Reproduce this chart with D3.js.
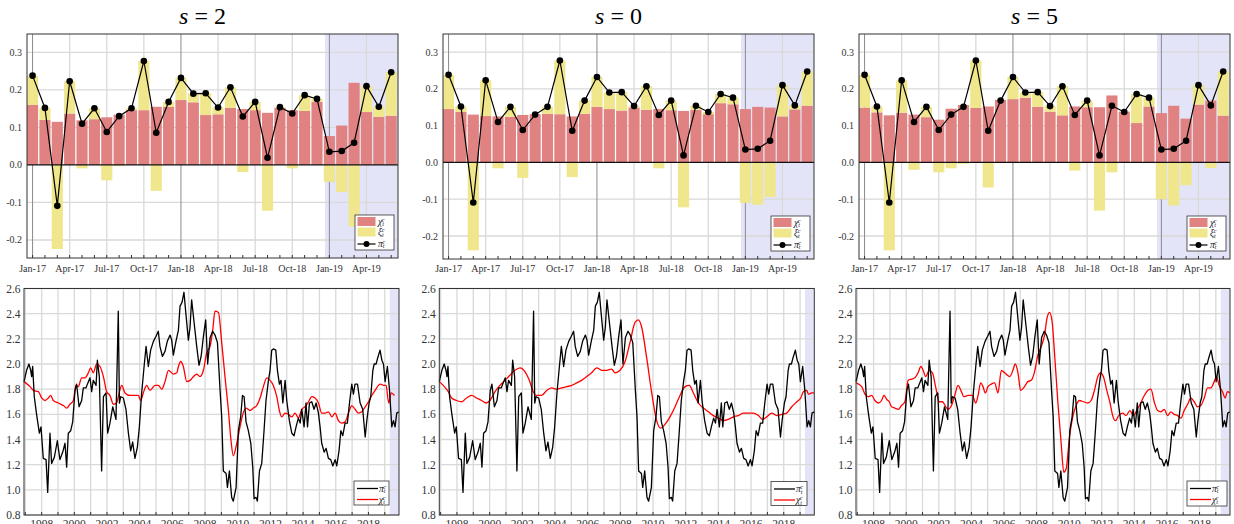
<!DOCTYPE html>
<html>
<head>
<meta charset="utf-8">
<script src="https://cdn.jsdelivr.net/npm/d3@7"></script>
<style>
  body { margin: 0; background: #fff; }
</style>
</head>
<body>
<div id="chart"></div>
<script>
// Daten: Monatswerte Jan-17 bis Jun-19
const months = ["Jan-17","Feb-17","Mar-17","Apr-17","May-17","Jun-17","Jul-17","Aug-17","Sep-17","Oct-17","Nov-17","Dec-17",
  "Jan-18","Feb-18","Mar-18","Apr-18","May-18","Jun-18","Jul-18","Aug-18","Sep-18","Oct-18","Nov-18","Dec-18",
  "Jan-19","Feb-19","Mar-19","Apr-19","May-19","Jun-19"];
const piMonthly = [0.238,0.152,-0.109,0.223,0.110,0.151,0.088,0.130,0.151,0.277,0.086,0.168,
  0.232,0.190,0.191,0.153,0.207,0.129,0.168,0.019,0.154,0.137,0.186,0.176,
  0.035,0.037,0.059,0.210,0.155,0.247];

const chiS2 = [0.160,0.120,0.115,0.137,0.119,0.122,0.127,0.134,0.146,0.146,0.155,0.155,
  0.173,0.167,0.133,0.135,0.152,0.149,0.146,0.139,0.152,0.146,0.144,0.168,
  0.077,0.105,0.219,0.141,0.128,0.131];
const xiS2 = [0.078,0.032,-0.224,0.086,-0.009,0.029,-0.041,-0.003,0.005,0.131,-0.069,0.013,
  0.059,0.023,0.058,0.018,0.055,-0.019,0.022,-0.122,0.002,-0.009,0.042,0.008,
  -0.045,-0.072,-0.164,0.069,0.027,0.116];

const chiS0 = [0.145,0.137,0.130,0.126,0.125,0.124,0.129,0.131,0.132,0.131,0.125,0.132,
  0.151,0.145,0.141,0.149,0.143,0.145,0.142,0.140,0.143,0.131,0.161,0.158,
  0.145,0.151,0.149,0.125,0.144,0.154];
const xiS0 = [0.093,0.015,-0.239,0.097,-0.016,0.027,-0.042,0.000,0.019,0.146,-0.040,0.036,
  0.081,0.045,0.050,0.004,0.064,-0.016,0.026,-0.122,0.011,0.006,0.025,0.018,
  -0.110,-0.115,-0.094,0.085,0.011,0.093];

const chiS5 = [0.149,0.136,0.128,0.135,0.130,0.123,0.116,0.146,0.156,0.148,0.152,0.170,
  0.172,0.176,0.151,0.138,0.128,0.152,0.150,0.150,0.182,0.138,0.107,0.152,
  0.134,0.154,0.119,0.157,0.168,0.127];
const xiS5 = [0.089,0.016,-0.239,0.088,-0.020,0.028,-0.027,-0.016,-0.004,0.129,-0.068,-0.002,
  0.060,0.014,0.040,0.015,0.079,-0.022,0.018,-0.131,-0.027,0.000,0.079,0.024,
  -0.100,-0.117,-0.062,0.053,-0.015,0.120];

// Daten: lange Reihen 1997-2019
const piYears = [1996.92,1997.08,1997.22,1997.33,1997.39,1997.45,1997.55,1997.69,1997.86,1997.96,
  1998.10,1998.27,1998.37,1998.51,1998.61,1998.78,1998.96,1999.12,1999.29,1999.43,1999.53,1999.63,1999.78,1999.90,
  2000.04,2000.14,2000.29,2000.45,2000.55,2000.71,2000.80,2000.96,2001.06,2001.16,2001.33,2001.41,2001.53,2001.67,2001.78,2001.94,
  2002.04,2002.18,2002.35,2002.55,2002.69,2002.76,2002.84,2003.00,2003.16,2003.31,2003.45,2003.57,2003.71,2003.86,2003.98,
  2004.12,2004.27,2004.39,2004.53,2004.67,2004.84,2005.00,2005.14,2005.24,2005.39,2005.55,2005.69,2005.86,2005.96,
  2006.06,2006.22,2006.37,2006.47,2006.59,2006.71,2006.82,2006.98,2007.08,2007.18,2007.33,2007.49,2007.63,2007.76,2007.90,
  2008.04,2008.16,2008.31,2008.47,2008.61,2008.76,2008.92,2009.02,2009.12,2009.29,2009.37,2009.49,2009.63,2009.73,2009.90,
  2010.04,2010.18,2010.29,2010.39,2010.51,2010.65,2010.80,2010.92,2011.00,2011.12,2011.20,2011.33,2011.47,2011.61,2011.73,2011.88,2011.98,
  2012.08,2012.18,2012.33,2012.43,2012.55,2012.65,2012.76,2012.90,2013.00,2013.16,2013.31,2013.45,2013.57,2013.71,2013.82,2013.92,
  2014.06,2014.18,2014.27,2014.39,2014.53,2014.67,2014.80,2014.94,2015.04,2015.14,2015.29,2015.41,2015.55,2015.69,2015.82,2015.96,
  2016.06,2016.20,2016.31,2016.43,2016.57,2016.71,2016.84,2016.98,2017.08,2017.18,2017.33,2017.49,2017.65,2017.80,2017.90,
  2018.04,2018.14,2018.27,2018.35,2018.47,2018.57,2018.71,2018.82,2018.92,2019.02,2019.16,2019.29,2019.43,2019.53,2019.63,2019.73,2019.86];
const piLong = [1.86,1.95,2.00,1.95,1.90,1.98,1.74,1.60,1.45,1.50,
  1.25,1.24,0.98,1.45,1.21,1.26,1.39,1.24,1.30,1.37,1.18,1.45,1.47,1.54,
  1.79,1.84,1.66,1.71,1.81,1.81,1.84,1.89,1.78,1.87,1.83,2.03,1.90,1.15,1.74,1.77,
  1.45,1.53,1.66,1.56,2.42,1.69,1.74,1.73,1.64,1.45,1.31,1.38,1.25,1.34,1.50,
  1.77,1.98,2.14,1.98,2.11,2.18,2.22,2.26,2.14,2.06,2.10,2.18,2.23,2.19,
  2.07,2.18,2.27,2.46,2.49,2.57,2.41,2.19,2.29,2.51,2.33,2.14,1.99,2.06,2.22,
  2.35,2.00,2.21,2.26,2.23,2.17,1.79,1.58,1.15,1.13,1.02,1.15,0.94,0.91,1.02,
  1.47,1.58,1.75,1.74,1.54,1.47,1.37,1.18,0.93,0.94,0.91,1.15,1.21,1.47,1.71,1.87,1.95,
  2.11,2.12,2.11,1.95,1.84,1.87,1.69,1.87,1.71,1.55,1.45,1.43,1.50,1.57,1.53,1.64,
  1.50,1.69,1.50,1.69,1.70,1.64,1.69,1.61,1.50,1.37,1.30,1.33,1.25,1.24,1.19,1.24,
  1.19,1.31,1.47,1.43,1.53,1.53,1.69,1.84,1.76,1.84,1.84,1.69,1.64,1.42,1.55,
  1.69,1.74,1.95,2.00,2.00,2.05,2.11,2.03,2.00,1.86,1.98,1.79,1.50,1.55,1.50,1.61,1.62];

const chiYearsS2 = [1996.92,1997.29,1997.49,1997.80,1998.00,1998.20,1998.41,1998.55,1998.71,1999.02,1999.33,1999.53,1999.73,1999.94,
  2000.10,2000.24,2000.45,2000.65,2000.86,2001.00,2001.16,2001.37,2001.57,2001.78,2001.98,2002.18,2002.39,2002.59,2002.76,2002.90,
  2003.10,2003.41,2003.71,2003.92,2004.06,2004.22,2004.43,2004.63,2004.94,2005.14,2005.35,2005.55,2005.76,2006.06,2006.27,2006.37,
  2006.51,2006.67,2006.88,2007.08,2007.29,2007.49,2007.69,2007.90,2008.10,2008.31,2008.47,2008.61,2008.82,2009.02,2009.22,2009.43,
  2009.59,2009.73,2009.94,2010.14,2010.31,2010.51,2010.76,2010.96,2011.16,2011.37,2011.57,2011.78,2011.98,2012.18,2012.39,2012.55,
  2012.69,2012.90,2013.10,2013.31,2013.51,2013.71,2013.92,2014.12,2014.33,2014.53,2014.73,2014.94,2015.14,2015.35,2015.55,2015.76,
  2015.96,2016.16,2016.37,2016.57,2016.78,2016.98,2017.18,2017.39,2017.59,2017.80,2018.00,2018.20,2018.41,2018.61,2018.75,2018.92,
  2019.08,2019.24,2019.39,2019.59];
const chiLongS2 = [1.86,1.82,1.79,1.78,1.73,1.71,1.73,1.75,1.71,1.69,1.67,1.65,1.68,1.71,
  1.83,1.82,1.89,1.89,1.93,1.97,1.93,2.00,1.98,1.90,1.78,1.75,1.68,1.69,1.78,1.83,
  1.77,1.75,1.75,1.75,1.71,1.77,1.83,1.79,1.83,1.83,1.80,1.86,1.95,1.92,1.93,1.98,
  2.02,1.98,1.86,1.87,1.90,1.92,1.90,1.95,2.09,2.14,2.27,2.42,2.41,2.17,1.90,1.63,
  1.39,1.27,1.37,1.50,1.60,1.65,1.63,1.65,1.67,1.73,1.82,1.89,1.87,1.83,1.74,1.63,
  1.58,1.61,1.60,1.58,1.61,1.57,1.64,1.66,1.70,1.74,1.73,1.69,1.61,1.61,1.62,1.58,
  1.61,1.55,1.53,1.54,1.61,1.67,1.64,1.61,1.62,1.66,1.70,1.75,1.79,1.83,1.84,1.83,
  1.83,1.69,1.77,1.75];

const chiYearsS0 = [1996.92,1997.16,1997.47,1997.67,1997.98,1998.29,1998.59,1998.90,1999.20,1999.51,1999.78,2000.02,2000.33,2000.63,
  2000.94,2001.24,2001.55,2001.86,2002.16,2002.43,2002.67,2002.88,2003.18,2003.49,2003.80,2004.10,2004.41,2004.71,2005.02,2005.33,
  2005.63,2005.94,2006.24,2006.55,2006.86,2007.16,2007.47,2007.67,2007.98,2008.29,2008.59,2008.90,2009.10,2009.31,2009.61,2009.92,
  2010.22,2010.47,2010.73,2011.04,2011.35,2011.65,2011.96,2012.22,2012.47,2012.78,2013.08,2013.39,2013.69,2014.00,2014.31,2014.61,
  2014.92,2015.22,2015.53,2015.84,2016.14,2016.45,2016.71,2016.96,2017.27,2017.57,2017.88,2018.18,2018.49,2018.80,2019.04,2019.20,
  2019.41,2019.51,2019.71,2019.86];
const chiLongS0 = [1.86,1.83,1.78,1.73,1.71,1.70,1.73,1.75,1.73,1.71,1.69,1.71,1.78,1.83,
  1.87,1.91,1.95,1.97,1.94,1.87,1.78,1.75,1.75,1.79,1.81,1.80,1.81,1.82,1.83,1.85,
  1.87,1.90,1.93,1.97,1.95,1.95,1.96,1.93,1.95,2.02,2.17,2.33,2.35,2.29,2.05,1.77,
  1.55,1.49,1.52,1.58,1.66,1.75,1.82,1.83,1.77,1.69,1.65,1.62,1.59,1.57,1.55,1.56,
  1.58,1.59,1.61,1.61,1.61,1.59,1.56,1.58,1.61,1.59,1.60,1.61,1.66,1.70,1.73,1.78,
  1.79,1.76,1.77,1.77];

const chiYearsS5 = [1996.92,1997.27,1997.47,1997.67,1997.88,1998.08,1998.29,1998.49,1998.63,1998.80,1998.96,1999.10,1999.31,1999.51,
  1999.71,1999.92,2000.12,2000.33,2000.53,2000.73,2000.90,2001.04,2001.20,2001.41,2001.61,2001.82,2002.02,2002.22,2002.43,2002.57,
  2002.78,2002.98,2003.18,2003.39,2003.53,2003.80,2004.06,2004.27,2004.41,2004.57,2004.71,2004.86,2005.02,2005.22,2005.43,2005.63,
  2005.84,2006.04,2006.35,2006.55,2006.69,2006.86,2007.02,2007.20,2007.47,2007.67,2007.88,2008.08,2008.29,2008.49,2008.65,2008.80,
  2008.96,2009.10,2009.31,2009.51,2009.67,2009.82,2010.02,2010.22,2010.43,2010.63,2010.88,2011.14,2011.35,2011.55,2011.76,2011.92,
  2012.10,2012.31,2012.51,2012.67,2012.84,2013.04,2013.29,2013.49,2013.73,2013.94,2014.14,2014.35,2014.61,2014.82,2015.02,2015.22,
  2015.43,2015.63,2015.84,2016.04,2016.24,2016.45,2016.65,2016.86,2017.06,2017.27,2017.47,2017.67,2017.88,2018.08,2018.29,2018.49,
  2018.69,2018.90,2019.04,2019.20,2019.41,2019.57,2019.71,2019.86];
const chiLongS5 = [1.85,1.82,1.76,1.74,1.75,1.71,1.69,1.71,1.75,1.72,1.70,1.66,1.65,1.64,
  1.67,1.70,1.87,1.88,1.89,1.93,1.98,1.95,1.90,1.95,1.93,1.81,1.70,1.70,1.66,1.64,
  1.67,1.75,1.83,1.78,1.74,1.75,1.75,1.69,1.75,1.85,1.82,1.77,1.82,1.84,1.85,1.77,
  1.95,1.93,1.90,1.95,2.00,1.93,1.79,1.81,1.86,1.87,1.94,2.07,2.14,2.23,2.37,2.41,
  2.33,2.09,1.69,1.37,1.14,1.17,1.42,1.58,1.67,1.71,1.70,1.69,1.71,1.79,1.90,1.93,
  1.90,1.79,1.69,1.59,1.55,1.59,1.61,1.59,1.63,1.59,1.63,1.68,1.75,1.79,1.80,1.70,
  1.63,1.62,1.64,1.59,1.62,1.60,1.59,1.57,1.63,1.68,1.73,1.70,1.66,1.67,1.73,1.81,
  1.81,1.86,1.90,1.83,1.78,1.73,1.78,1.77];

const panelTitles = ["2", "0", "5"];
const barTicks = [-0.2, -0.1, 0.0, 0.1, 0.2, 0.3];
const lineTicks = [0.8, 1.0, 1.2, 1.4, 1.6, 1.8, 2.0, 2.2, 2.4, 2.6];
const yearTicks = [1998, 2000, 2002, 2004, 2006, 2008, 2010, 2012, 2014, 2016, 2018];
const yearGrid = d3.range(1997, 2020);

const chiSeries = [chiS2, chiS0, chiS5];
const xiSeries = [xiS2, xiS0, xiS5];
const chiLongYears = [chiYearsS2, chiYearsS0, chiYearsS5];
const chiLongValues = [chiLongS2, chiLongS0, chiLongS5];

// Layout
const W = 1234, H = 524;
const SERIF = "'Liberation Serif', 'Times New Roman', 'DejaVu Serif', serif";
const topBoxes = [
  { x0: 27, x1: 398, y0: 34, y1: 258, yDom: [-0.248, 0.349] },
  { x0: 443, x1: 814, y0: 34, y1: 259, yDom: [-0.2625, 0.349] },
  { x0: 859, x1: 1230, y0: 34, y1: 259, yDom: [-0.2625, 0.349] }
];
const bottomBoxes = [
  { x0: 24, x1: 399, y0: 288.5, y1: 515, leg: [354, 481, 35, 24] },
  { x0: 439.3, x1: 814.3, y0: 288.5, y1: 515, leg: [771, 481.5, 36, 24] },
  { x0: 856, x1: 1230, y0: 288.5, y1: 515, leg: [1187, 481, 40, 25] }
];

const RED = "#e08282", YELLOW = "#f0e68c", SHADE = "#e4e4f8";
const GRID = "#d9d9d9", YEARGRID = "#8a8a8a", FRAME = "#333";

const svg = d3.select("#chart").append("svg")
  .attr("width", W).attr("height", H)
  .attr("font-family", SERIF);

function mathLabel(sel, base) {
  // z.B. χ mit Index t und Exponent c
  sel.append("tspan").attr("font-style", "italic").text(base);
  sel.append("tspan").attr("font-style", "italic").attr("font-size", "0.65em").attr("dy", "0.3em").text("t");
  sel.append("tspan").attr("font-style", "italic").attr("font-size", "0.65em").attr("dx", "-0.35em").attr("dy", "-0.75em").text("c");
}

function drawBarPanel(i) {
  const b = topBoxes[i];
  const chi = chiSeries[i], xi = xiSeries[i];
  const g = svg.append("g");
  const x = d3.scaleLinear().domain([-0.45, 29.55]).range([b.x0, b.x1]);
  const y = d3.scaleLinear().domain(b.yDom).range([b.y1, b.y0]);
  const bw = (x(1) - x(0)) * 0.9;

  // Titel
  const t = g.append("text")
    .attr("x", (b.x0 + b.x1) / 2 - 10).attr("y", 24)
    .attr("text-anchor", "middle").attr("font-size", 24).attr("fill", "#000");
  t.append("tspan").attr("font-style", "italic").text("s");
  t.append("tspan").text(" = " + panelTitles[i]);

  // Prognosebereich
  g.append("rect").attr("x", x(23.65)).attr("y", b.y0)
    .attr("width", b.x1 - x(23.65)).attr("height", b.y1 - b.y0).attr("fill", SHADE);

  // Gitter
  g.selectAll(".hg").data(barTicks.filter(v => v !== 0)).enter().append("line")
    .attr("x1", b.x0).attr("x2", b.x1).attr("y1", d => y(d)).attr("y2", d => y(d))
    .attr("stroke", GRID).attr("stroke-width", 1.3);
  const q = months.map((m, k) => k).filter(k => k % 3 === 0);
  g.selectAll(".vg").data(q).enter().append("line")
    .attr("x1", d => x(d)).attr("x2", d => x(d)).attr("y1", b.y0).attr("y2", b.y1)
    .attr("stroke", d => d % 12 === 0 ? YEARGRID : GRID)
    .attr("stroke-width", d => d % 12 === 0 ? 1 : 1.3);

  // Balken
  g.selectAll(".chi").data(chi).enter().append("rect")
    .attr("x", (d, k) => x(k) - bw / 2).attr("width", bw)
    .attr("y", d => y(Math.max(d, 0))).attr("height", d => Math.abs(y(d) - y(0)))
    .attr("fill", RED);
  g.selectAll(".xi").data(xi).enter().append("rect")
    .attr("x", (d, k) => x(k) - bw / 2).attr("width", bw)
    .attr("y", (d, k) => d >= 0 ? y(chi[k] + d) : y(0))
    .attr("height", d => Math.abs(y(d) - y(0)))
    .attr("fill", YELLOW);

  g.append("line").attr("x1", b.x0).attr("x2", b.x1).attr("y1", y(0)).attr("y2", y(0))
    .attr("stroke", "#111").attr("stroke-width", 1.2);

  // Linie mit Punkten
  g.append("path").datum(piMonthly)
    .attr("d", d3.line().x((d, k) => x(k)).y(d => y(d)))
    .attr("fill", "none").attr("stroke", "#000").attr("stroke-width", 1.2);
  g.selectAll(".dot").data(piMonthly).enter().append("circle")
    .attr("cx", (d, k) => x(k)).attr("cy", d => y(d)).attr("r", 3.3).attr("fill", "#000");

  // Rahmen, Ticks, Beschriftung
  g.append("rect").attr("x", b.x0).attr("y", b.y0).attr("width", b.x1 - b.x0).attr("height", b.y1 - b.y0)
    .attr("fill", "none").attr("stroke", FRAME).attr("stroke-width", 1);
  g.selectAll(".mt").data(months).enter().append("line")
    .attr("x1", (d, k) => x(k)).attr("x2", (d, k) => x(k)).attr("y1", b.y1).attr("y2", b.y1 - 3)
    .attr("stroke", FRAME);
  g.selectAll(".xl").data(q).enter().append("text")
    .attr("x", d => x(d)).attr("y", 271.5).attr("text-anchor", "middle").attr("font-size", 10)
    .attr("fill", "#333").text(d => months[d]);
  g.selectAll(".yl").data(barTicks).enter().append("text")
    .attr("x", b.x0 - 5).attr("y", d => y(d) + 3.5).attr("text-anchor", "end").attr("font-size", 10)
    .attr("fill", "#333").text(d => d.toFixed(1));

  // Legende
  const lx = b.x1 - 43, ly = b.y1 - 43;
  const leg = g.append("g");
  leg.append("rect").attr("x", lx).attr("y", ly).attr("width", 39).attr("height", 35)
    .attr("fill", "#fff").attr("stroke", FRAME).attr("stroke-width", 0.8);
  leg.append("rect").attr("x", lx + 2.5).attr("y", ly + 2).attr("width", 18).attr("height", 9).attr("fill", RED);
  leg.append("rect").attr("x", lx + 2.5).attr("y", ly + 12.5).attr("width", 18).attr("height", 9).attr("fill", YELLOW);
  leg.append("line").attr("x1", lx + 2.5).attr("x2", lx + 20.5).attr("y1", ly + 29).attr("y2", ly + 29)
    .attr("stroke", "#000").attr("stroke-width", 1.2);
  leg.append("circle").attr("cx", lx + 11.5).attr("cy", ly + 29).attr("r", 3).attr("fill", "#000");
  [["χ", 9.5], ["ξ", 20], ["π", 31.5]].forEach(([s, dy]) => {
    leg.append("text").attr("x", lx + 23).attr("y", ly + dy).attr("font-size", 9.5)
      .attr("fill", "#222").call(mathLabel, s);
  });
}

function drawLinePanel(i) {
  const b = bottomBoxes[i];
  const g = svg.append("g");
  const x = d3.scaleLinear().domain([1996.92, 2019.87]).range([b.x0, b.x1]);
  const y = d3.scaleLinear().domain([0.8, 2.6]).range([b.y1, b.y0]);

  g.append("rect").attr("x", x(2019.3)).attr("y", b.y0)
    .attr("width", b.x1 - x(2019.3)).attr("height", b.y1 - b.y0).attr("fill", SHADE);

  g.selectAll(".hg").data(lineTicks).enter().append("line")
    .attr("x1", b.x0).attr("x2", b.x1).attr("y1", d => y(d)).attr("y2", d => y(d))
    .attr("stroke", GRID).attr("stroke-width", 1.3);
  g.selectAll(".vg").data(yearGrid).enter().append("line")
    .attr("x1", d => x(d)).attr("x2", d => x(d)).attr("y1", b.y0).attr("y2", b.y1)
    .attr("stroke", GRID).attr("stroke-width", 1.3);

  const line = d3.line().x(d => x(d[0])).y(d => y(d[1]));
  g.append("path").datum(d3.zip(chiLongYears[i], chiLongValues[i]))
    .attr("d", line.curve(d3.curveMonotoneX))
    .attr("fill", "none").attr("stroke", "#f00").attr("stroke-width", 1.3);
  g.append("path").datum(d3.zip(piYears, piLong))
    .attr("d", d3.line().x(d => x(d[0])).y(d => y(d[1])))
    .attr("fill", "none").attr("stroke", "#000").attr("stroke-width", 1.3).attr("stroke-linejoin", "round");

  g.append("rect").attr("x", b.x0).attr("y", b.y0).attr("width", b.x1 - b.x0).attr("height", b.y1 - b.y0)
    .attr("fill", "none").attr("stroke", FRAME).attr("stroke-width", 1);
  g.selectAll(".yt").data(yearGrid).enter().append("line")
    .attr("x1", d => x(d)).attr("x2", d => x(d)).attr("y1", b.y1).attr("y2", b.y1 - 3).attr("stroke", FRAME);
  g.selectAll(".xl").data(yearTicks).enter().append("text")
    .attr("x", d => x(d)).attr("y", 528).attr("text-anchor", "middle").attr("font-size", 11.5)
    .attr("fill", "#333").text(d => d);
  g.selectAll(".yl").data(lineTicks).enter().append("text")
    .attr("x", b.x0 - 3.5).attr("y", d => y(d) + 4).attr("text-anchor", "end").attr("font-size", 11.5)
    .attr("fill", "#333").text(d => d.toFixed(1));

  // Legende
  const [lx, ly, lw, lh] = b.leg;
  const leg = g.append("g");
  leg.append("rect").attr("x", lx).attr("y", ly).attr("width", lw).attr("height", lh)
    .attr("fill", "#fff").attr("stroke", FRAME).attr("stroke-width", 0.8);
  [["π", "#000", 7.5], ["χ", "#f00", 18.5]].forEach(([s, c, dy]) => {
    leg.append("line").attr("x1", lx + 3).attr("x2", lx + 24).attr("y1", ly + dy).attr("y2", ly + dy)
      .attr("stroke", c).attr("stroke-width", 1.3);
    leg.append("text").attr("x", lx + 25).attr("y", ly + dy + 3).attr("font-size", 9.5)
      .attr("fill", "#222").call(mathLabel, s);
  });
}

// Initial
[0, 1, 2].forEach(i => { drawBarPanel(i); drawLinePanel(i); });
</script>
</body>
</html>
